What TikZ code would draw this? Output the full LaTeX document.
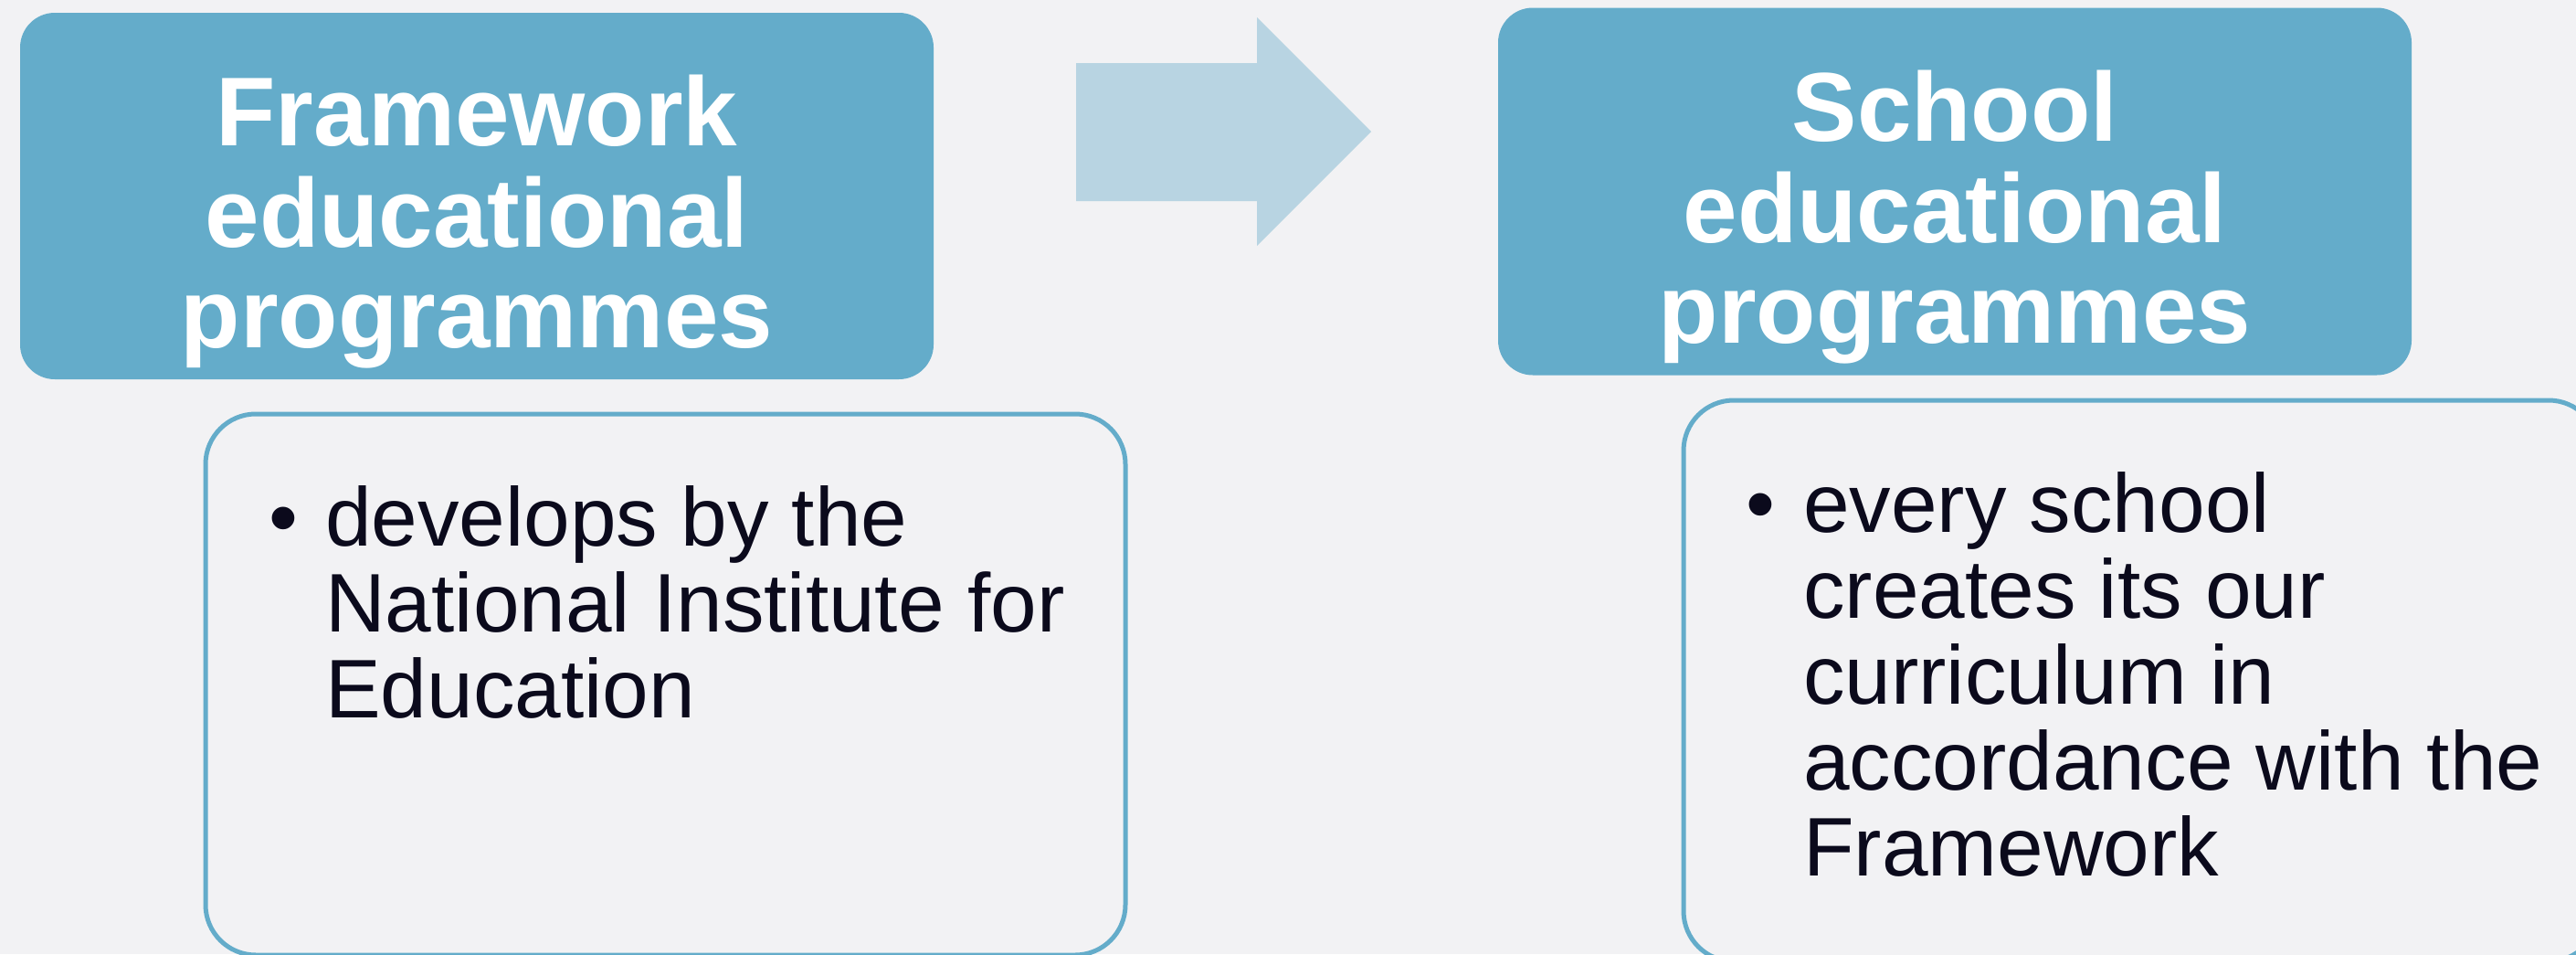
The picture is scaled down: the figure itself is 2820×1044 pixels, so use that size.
\documentclass[tikz,border=0pt]{standalone}
\usepackage{fontspec}
\setmainfont{Liberation Sans}
\definecolor{backgr}{HTML}{F2F2F4}
\definecolor{boxblue}{HTML}{64ACCA}
\definecolor{arrowblue}{HTML}{B8D4E2}
\definecolor{inktext}{HTML}{0B0A1C}
\tikzset{
  titlebox/.style={fill=boxblue,rounded corners=38pt,minimum width=1000pt,inner sep=0pt},
  titletext/.style={text=white,align=center,inner sep=0pt,font=\fontsize{107}{110.5}\selectfont\bfseries},
  listbox/.style={draw=boxblue,line width=5pt,rounded corners=55pt,fill=backgr,inner sep=0pt},
  listtext/.style={text=inktext,align=left,inner sep=0pt,anchor=north west,font=\fontsize{91}{94}\selectfont},
  listdot/.style={text=inktext,inner sep=0pt,anchor=base,font=\fontsize{91}{94}\selectfont}
}
\begin{document}
\begin{tikzpicture}[x=1pt,y=-1pt]
    \useasboundingbox (0,0) rectangle (2820,1044);
    \clip (0,0) rectangle (2820,1044);
    \fill[backgr] (0,0) rectangle (2820,1044); % Hintergrund

    % linke Seite
    \node[titlebox,minimum height=401pt] (fwbox) at (522,214.5) {};
    \node[titletext] (fwtitle) at (522,243) {Framework\\educational\\programmes};
    \node[listbox,minimum width=1007pt,minimum height=592pt] (fwlist) at (728.5,749) {};
    \node[listdot] (fwdot) at (310,597) {•};
    \node[listtext] (fwtext) at (356,531) {develops by the\\National Institute for\\Education};

    % Pfeil
    \fill[arrowblue] (1178,69) -- (1376,69) -- (1376,19) -- (1501,144)
          -- (1376,269) -- (1376,220) -- (1178,220) -- cycle;

    % rechte Seite
    \node[titlebox,minimum height=402pt] (scbox) at (2140,209.5) {};
    \node[titletext] (sctitle) at (2140,238) {School\\educational\\programmes};
    \node[listbox,minimum width=1002pt,minimum height=614pt] (sclist) at (2344,745) {};
    \node[listdot] (scdot) at (1927,582) {•};
    \node[listtext] (sctext) at (1974,516) {every school\\creates its our\\curriculum in\\accordance with the\\Framework};
\end{tikzpicture}
\end{document}
